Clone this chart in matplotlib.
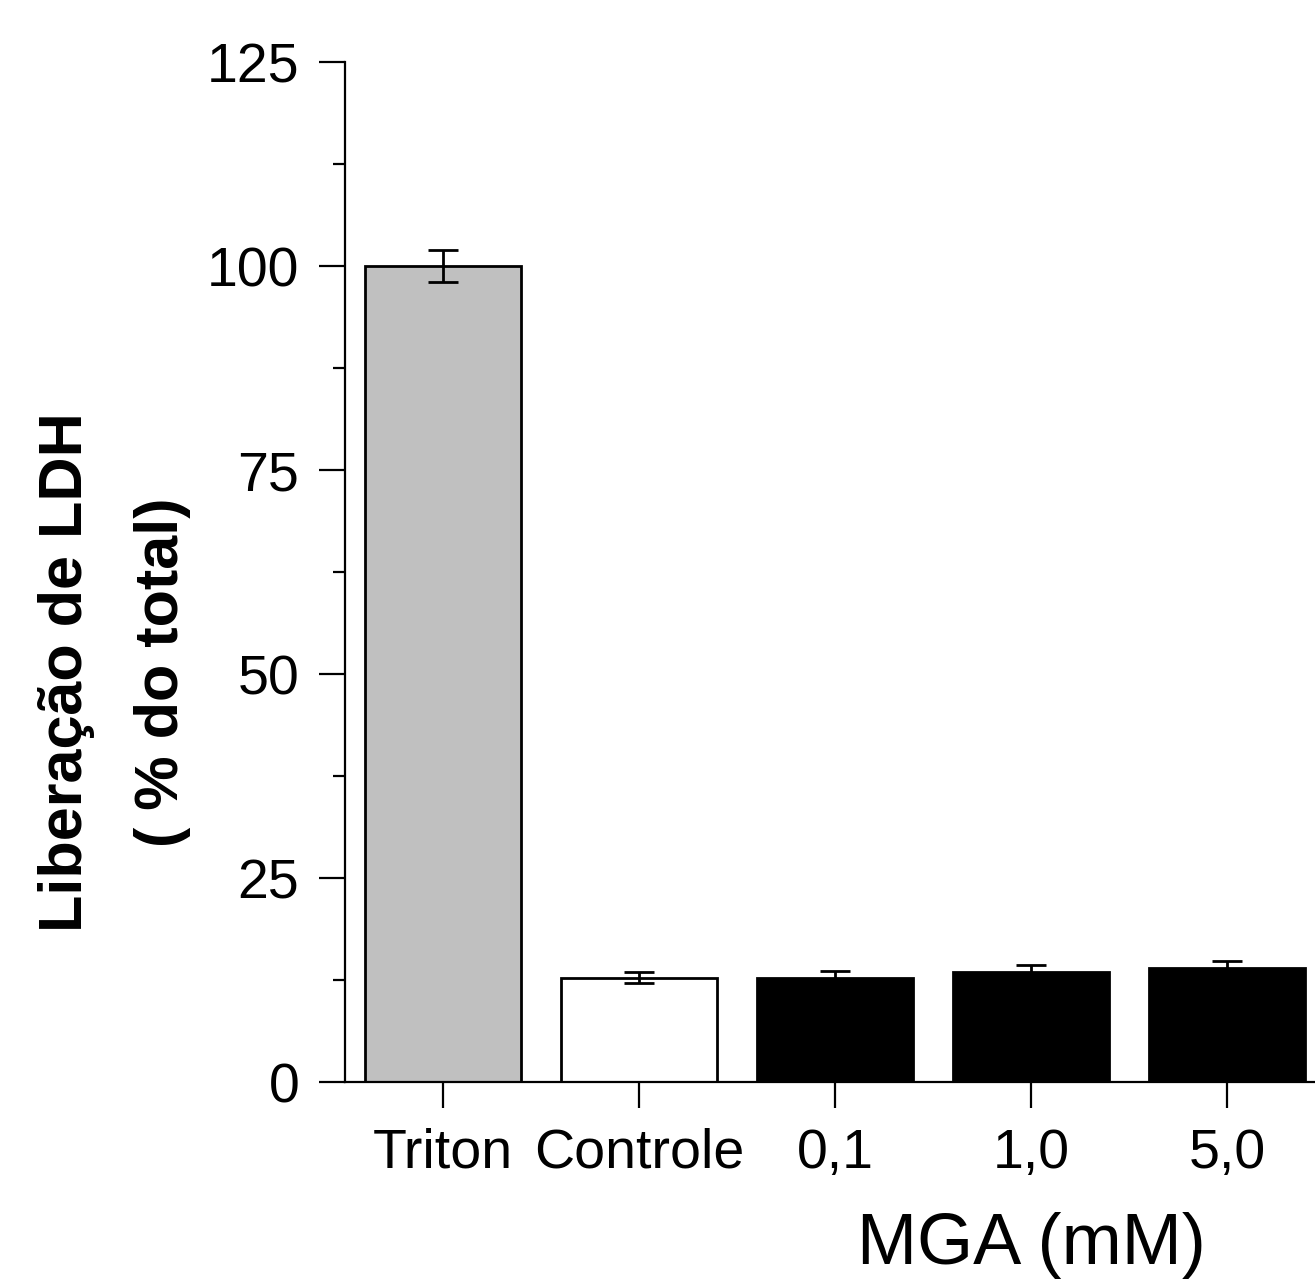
import matplotlib
matplotlib.use('Agg')
import matplotlib.pyplot as plt
import numpy as np
from matplotlib.ticker import MultipleLocator

plt.rcParams['font.family'] = ['Liberation Sans', 'DejaVu Sans']

categories = ['Triton', 'Controle', '0,1', '1,0', '5,0']
values = [100.0, 12.8, 12.7, 13.5, 14.0]
errors = [2.0, 0.7, 0.9, 0.8, 0.8]
colors = ['#c0c0c0', 'white', 'black', 'black', 'black']

fig = plt.figure(figsize=(13.15, 12.81), dpi=100)
ax = fig.add_axes([0.2624, 0.1553, 0.7452, 0.7963])

x = np.arange(len(categories))
ax.bar(x, values, width=0.8, color=colors, edgecolor='black', linewidth=2.0)
ax.errorbar(x, values, yerr=errors, fmt='none', ecolor='black',
            elinewidth=2.0, capsize=10.5, capthick=2.0)

ax.set_xlim(-0.5, 4.5)
ax.set_ylim(0, 125)
ax.yaxis.set_major_locator(MultipleLocator(25))
ax.yaxis.set_minor_locator(MultipleLocator(12.5))
ax.set_xticks(x)
ax.set_xticklabels(categories)

for s in ['top', 'right']:
    ax.spines[s].set_visible(False)
for s in ['left', 'bottom']:
    ax.spines[s].set_linewidth(1.6)

ax.tick_params(axis='both', which='major', length=19, width=1.6, labelsize=40, direction='out')
ax.tick_params(axis='y', which='minor', length=9, width=1.6, direction='out')
ax.tick_params(axis='y', which='major', pad=14)
ax.tick_params(axis='x', which='major', pad=14)

fig.text(0.087, 0.4754, 'Liberação de LDH\n( % do total)', rotation=90,
         ha='center', va='center', fontsize=44, fontweight='bold',
         multialignment='center', linespacing=1.9)

ax.text(3, -0.16, 'MGA (mM)', transform=ax.get_xaxis_transform(),
        ha='center', va='center', fontsize=52)

fig.savefig('out.png', dpi=100)
